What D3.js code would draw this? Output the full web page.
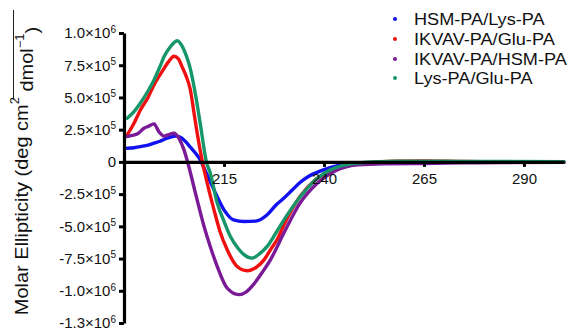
<!DOCTYPE html>
<html>
<head>
<meta charset="utf-8">
<script src="https://cdn.jsdelivr.net/npm/d3@7"></script>
<style>
  html, body { margin: 0; padding: 0; background: #fff; }
  svg { display: block; font-family: "Liberation Sans", Arial, sans-serif; }
</style>
</head>
<body>
<svg id="chart" width="579" height="331"></svg>
<script>
// ---- Data ----
const seriesNames = ["HSM-PA/Lys-PA", "IKVAV-PA/Glu-PA", "IKVAV-PA/HSM-PA", "Lys-PA/Glu-PA"];
const seriesColors = ["#1010f0", "#f01010", "#7a1a96", "#17966a"];

const wlHSM   = [190.8, 192.5, 194.1, 196, 197.5, 199, 200.8, 202.9, 204.2, 205.4, 206.7, 207.9, 209, 210.2, 212.5, 215, 217.4, 220, 222.9, 225.8, 228, 230, 232, 234, 236, 238, 240, 244, 250, 260, 270, 280, 290, 300];
const valHSM  = [1.06e5, 1.1e5, 1.19e5, 1.3e5, 1.45e5, 1.6e5, 1.84e5, 2.0e5, 1.9e5, 1.57e5, 1.1e5, 0.67e5, 0.2e5, -0.6e5, -2.17e5, -3.72e5, -4.5e5, -4.63e5, -4.6e5, -4.1e5, -3.35e5, -2.8e5, -2.2e5, -1.6e5, -1.15e5, -0.85e5, -0.6e5, -0.25e5, -0.08e5, -0.02e5, 0.0, -0.01e5, 0.0, -0.02e5];

const wlIG    = [190.8, 192.5, 194.1, 196, 197.5, 199.5, 201.2, 202.5, 203.6, 204.5, 205.6, 206.6, 207.5, 208.3, 209.6, 211, 212.5, 214, 215.8, 218.3, 220.8, 223.3, 225, 226.6, 228.5, 230, 234, 238, 242, 246, 250, 258, 265, 275, 285, 300];
const valIG   = [2.09e5, 3.0e5, 4.03e5, 5.0e5, 5.97e5, 7.0e5, 7.8e5, 8.2e5, 8.0e5, 7.39e5, 6.6e5, 5.58e5, 3.8e5, 2.22e5, 0, -1.9e5, -3.72e5, -5.4e5, -6.82e5, -8.12e5, -8.45e5, -8.12e5, -7.6e5, -6.82e5, -5.9e5, -4.88e5, -2.69e5, -1.35e5, -0.65e5, -0.3e5, -0.12e5, 0.05e5, 0.08e5, 0.03e5, 0.02e5, 0.0];

const wlIH    = [190.8, 192, 193.5, 195, 196, 197.5, 198.7, 200, 201, 202.5, 203.7, 205, 206.2, 208, 210, 211.6, 213.3, 215.8, 218.7, 220.5, 222.4, 224.5, 226.6, 230, 234, 238.3, 242.5, 248.3, 255, 265, 275, 285, 300];
const valIH   = [1.96e5, 2.05e5, 2.2e5, 2.61e5, 2.75e5, 2.95e5, 2.35e5, 2.0e5, 2.1e5, 2.22e5, 1.84e5, 0.93e5, -0.36e5, -2.6e5, -5.0e5, -6.6e5, -8.1e5, -9.8e5, -1.03e6, -1.01e6, -9.5e5, -8.6e5, -7.6e5, -5.5e5, -3.2e5, -1.65e5, -0.75e5, -0.23e5, -0.14e5, -0.12e5, -0.08e5, -0.05e5, -0.03e5];

const wlLG    = [190.8, 192.5, 194.1, 196, 197.5, 199, 200, 201.5, 202.5, 203.3, 204.5, 205.5, 206.6, 208, 209.1, 210.6, 211.6, 213.3, 215, 216.6, 218.5, 220, 222, 224, 225.8, 228, 230, 234.1, 238.3, 241.6, 245, 250, 258, 265, 275, 285, 300];
const valLG   = [3.39e5, 3.9e5, 4.57e5, 5.5e5, 6.36e5, 7.4e5, 8.16e5, 8.9e5, 9.25e5, 9.4e5, 9.0e5, 8.3e5, 7.2e5, 5.0e5, 2.9e5, 0, -0.9e5, -3.2e5, -4.6e5, -5.79e5, -6.7e5, -7.2e5, -7.47e5, -7.1e5, -6.56e5, -5.5e5, -4.5e5, -2.69e5, -1.27e5, -0.62e5, -0.25e5, -0.05e5, 0.05e5, 0.06e5, 0.04e5, 0.03e5, 0.02e5];

const xTicks = [215, 240, 265, 290];
const yTicks = [1e6, 7.5e5, 5e5, 2.5e5, 0, -2.5e5, -5e5, -7.5e5, -1e6, -1.25e6];
const yTickLabels = ["1.0×10^6", "7.5×10^5", "5.0×10^5", "2.5×10^5", "0", "-2.5×10^5", "-5.0×10^5", "-7.5×10^5", "-1.0×10^6", "-1.3×10^6"];

const series = [
  { name: seriesNames[0], color: seriesColors[0], wl: wlHSM, val: valHSM },
  { name: seriesNames[1], color: seriesColors[1], wl: wlIG,  val: valIG },
  { name: seriesNames[2], color: seriesColors[2], wl: wlIH,  val: valIH },
  { name: seriesNames[3], color: seriesColors[3], wl: wlLG,  val: valLG }
];

// ---- Layout ----
const svg = d3.select("#chart");
svg.append("rect").attr("width", 579).attr("height", 331).attr("fill", "#fff");

const x = d3.scaleLinear().domain([190, 300]).range([124, 564]);
const y = d3.scaleLinear().domain([-1.25e6, 1.0e6]).range([323, 33]);

// Lines
const line = d3.line()
  .x(d => x(d[0])).y(d => y(d[1]))
  .curve(d3.curveMonotoneX);

const gLines = svg.append("g");
series.forEach(s => {
  const pts = s.wl.map((w, i) => [w, s.val[i]]);
  gLines.append("path")
    .datum(pts)
    .attr("d", line)
    .attr("fill", "none")
    .attr("stroke", s.color)
    .attr("stroke-width", 3.4)
    .attr("stroke-linejoin", "round")
    .attr("stroke-linecap", "round");
});

// X axis (at y = 0)
const xAxis = d3.axisBottom(x).tickValues(xTicks).tickSize(5).tickSizeOuter(0).tickPadding(6);
const gx = svg.append("g").attr("transform", `translate(0,${y(0)})`).call(xAxis);
gx.select(".domain").attr("stroke", "#000").attr("stroke-width", 3.2);
gx.selectAll(".tick line").attr("stroke", "#000").attr("stroke-width", 3);
gx.selectAll(".tick text").attr("font-size", 15).attr("fill", "#111")
  .attr("font-family", "'Liberation Sans', Arial, sans-serif");

// Y axis
const yAxis = d3.axisLeft(y).tickValues(yTicks).tickSize(5).tickSizeOuter(0).tickPadding(3)
  .tickFormat((d, i) => yTickLabels[i]);
const gy = svg.append("g").attr("transform", `translate(${x(190)},0)`).call(yAxis);
gy.select(".domain").attr("stroke", "#000").attr("stroke-width", 3.2);
gy.selectAll(".tick line").attr("stroke", "#000").attr("stroke-width", 3);
gy.selectAll(".tick text").each(function(d, i) {
  const t = d3.select(this);
  const lab = yTickLabels[i];
  t.text(null).attr("font-size", 15).attr("fill", "#111")
    .attr("font-family", "'Liberation Sans', Arial, sans-serif");
  const parts = lab.split("^");
  t.append("tspan").text(parts[0]);
  if (parts.length > 1) {
    t.append("tspan").attr("font-size", 10).attr("dy", "-0.55em").text(parts[1]);
  }
});

// Y axis title
const yt = svg.append("g").attr("transform", "translate(28,171) rotate(-90) scale(1.08,1)");
const ytext = yt.append("text")
  .attr("text-anchor", "middle")
  .attr("font-size", 18.5)
  .attr("fill", "#111");
ytext.append("tspan").text("Molar Ellipticity (deg cm");
ytext.append("tspan").attr("font-size", 12).attr("dy", "-0.75em").text("2");
ytext.append("tspan").attr("dy", "0.75em").text(" dmol");
ytext.append("tspan").attr("font-size", 12).attr("dy", "-0.75em").text("−1");
ytext.append("tspan").attr("dy", "0.75em").text(")");
// overline on units
svg.append("line").attr("x1", 13.5).attr("x2", 13.5).attr("y1", 10).attr("y2", 100)
  .attr("stroke", "#222").attr("stroke-width", 1);

// Legend
const legY = [19, 39, 59, 78];
const gl = svg.append("g");
series.forEach((s, i) => {
  gl.append("circle").attr("cx", 395).attr("cy", legY[i]).attr("r", 2).attr("fill", s.color);
  gl.append("text")
    .attr("transform", `translate(414,${legY[i] + 6}) scale(1.1,1)`)
    .attr("font-size", 16.5)
    .attr("fill", "#111")
    .text(s.name);
});
</script>
</body>
</html>
